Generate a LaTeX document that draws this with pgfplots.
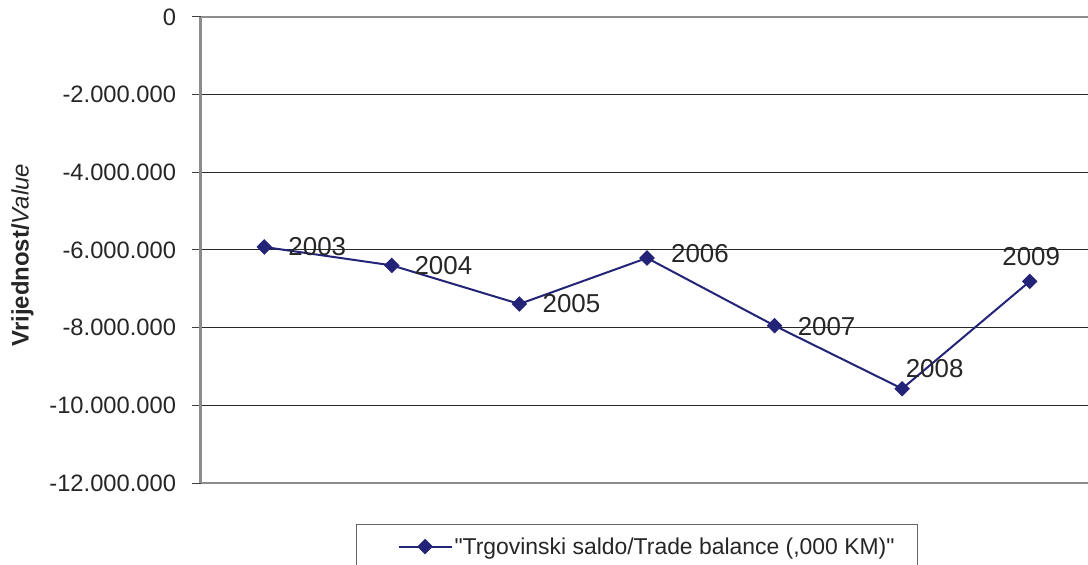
\documentclass[border=0pt]{standalone}
\usepackage{pgfplots}
\pgfplotsset{compat=1.18}
\usepackage{pgfplotstable}
\usepackage{fontspec}
\setmainfont{Liberation Sans}[Ligatures=TeXOff]
\definecolor{navy}{RGB}{35,35,120}
\definecolor{axgray}{RGB}{140,140,140}
\definecolor{gridc}{RGB}{40,40,40}
\pgfplotstableread{
x y lbl dx dy
1 -5922500 2003 53 0
2 -6396300 2004 51.5 0
3 -7390250 2005 52 0
4 -6205750 2006 53 4
5 -7949000 2007 52 -1
6 -9571300 2008 32.5 20
7 -6808300 2009 1.5 25
}\datatable
\begin{document}
\begin{tikzpicture}
\useasboundingbox (0bp,0bp) rectangle (1088bp,565bp);
\begin{axis}[
  at={(200.5bp,82bp)}, anchor=south west,
  scale only axis, width=893bp, height=466bp,
  xmin=0.5, xmax=7.5, ymin=-12000000, ymax=0,
  axis x line*=bottom, axis y line*=left,
  axis line style={draw=axgray, line width=2bp, -},
  xtick=\empty,
  ytick={-12000000,-10000000,-8000000,-6000000,-4000000,-2000000,0},
  yticklabels={-12.000.000,-10.000.000,-8.000.000,-6.000.000,-4.000.000,-2.000.000,0},
  scaled y ticks=false,
  tick align=outside, major tick length=8bp,
  ytick style={draw=black!75, line width=1bp},
  yticklabel style={font=\fontsize{23.8}{27}\selectfont, text=black!85, xshift=-13bp},
  ymajorgrids, grid style={draw=gridc, line width=1bp},
  ylabel={{\bfseries Vrijednost/}{\itshape Value}},
  ylabel style={at={(axis description cs:-0.1995,0.489)}, anchor=center, font=\fontsize{24}{27}\selectfont, text=black!85},
  clip=false,
  legend style={at={(axis description cs:0.1742,-0.088)}, anchor=north west,
    draw=black!60, line width=1bp, inner xsep=21bp, inner ysep=11bp,
    font=\fontsize{23}{26}\selectfont, text=black!85},
  legend image code/.code={\path[draw=none] (0bp,0bp) -- (21bp,0bp); \draw[mark repeat=2, mark phase=2, #1] plot coordinates {(21bp,0bp) (47.5bp,0bp) (74bp,0bp)};},
]
\draw[axgray, line width=2bp] (rel axis cs:0,1) -- (rel axis cs:1,1);
\addplot[color=navy, line width=2bp, mark=square*, mark size=4.5bp,
  mark options={rotate=45, solid, fill=navy},
  point meta=explicit symbolic,
  visualization depends on={\thisrow{dx}\as\dx},
  visualization depends on={\thisrow{dy}\as\dy},
  nodes near coords,
  nodes near coords style={anchor=center, xshift={\dx*1bp}, yshift={\dy*1bp},
    font=\fontsize{26}{29}\selectfont, text=black!85},
] table[x=x, y=y, meta=lbl] {\datatable};
\addlegendentry{"Trgovinski saldo/Trade balance (,000 KM)"}
\end{axis}
\end{tikzpicture}
\end{document}
